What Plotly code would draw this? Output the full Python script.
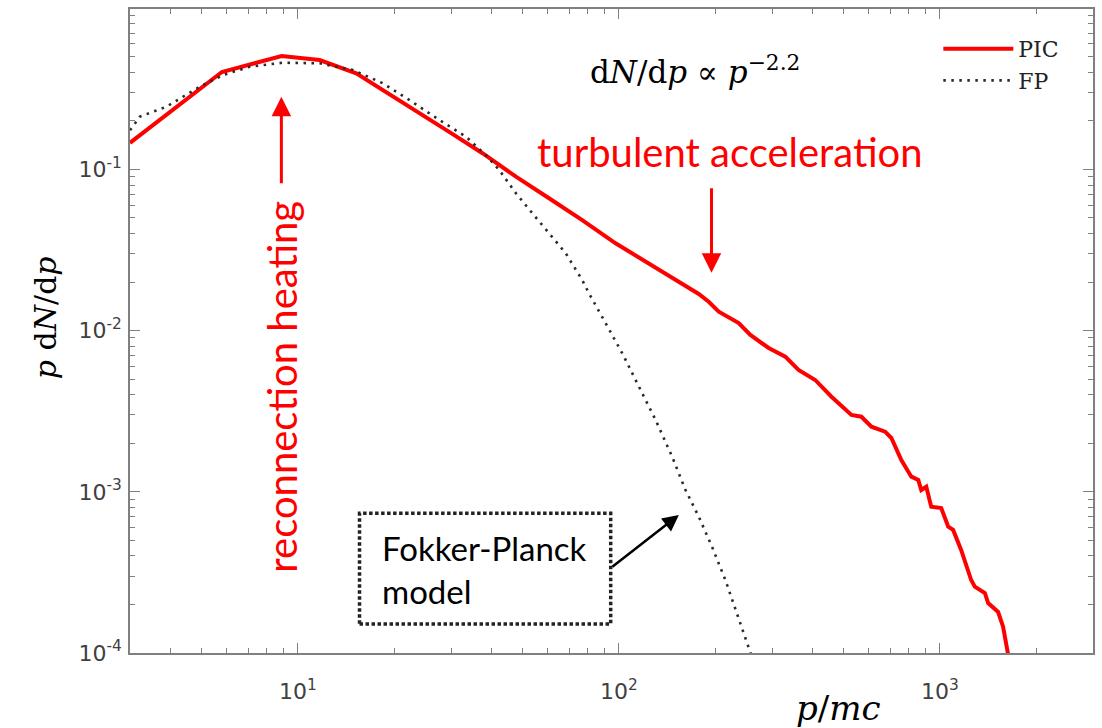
import plotly.graph_objects as go

# ---- data ----
pic_p = [3.0, 5.80, 8.90, 11.69, 15.2, 18.4, 23.4, 29.6, 37.6, 47.8, 60.6, 76.9, 97.7,
         124, 157.4, 177.4, 190.5, 204.8, 236.3, 256.9, 292.9, 330, 362.9, 409, 459.6,
         530.3, 569.6, 612, 675.1, 706.3, 758.6, 815, 856.6, 875.2, 907.2, 940.1, 1010,
         1062, 1100, 1165, 1252, 1285, 1381, 1414, 1519, 1574, 1608, 1643]
pic_y = [0.146, 0.402, 0.505, 0.477, 0.394, 0.311, 0.228, 0.171, 0.126, 0.0901, 0.0662,
         0.0485, 0.0348, 0.0262, 0.01965, 0.01687, 0.0151, 0.0131, 0.01114, 0.00939,
         0.0078, 0.00689, 0.0057, 0.00494, 0.00389, 0.002995, 0.002923, 0.002534,
         0.00236, 0.002157, 0.001575, 0.001241, 0.001184, 0.001026, 0.001075, 0.000808,
         0.000793, 0.000607, 0.00058, 0.000436, 0.0002836, 0.0002578, 0.0002357,
         0.0002042, 0.0001796, 0.0001456, 0.0001153, 0.0000906]

fp_p = [3.0, 3.22, 3.90, 4.95, 5.85, 7.08, 8.99, 11.69, 14.84, 18.4, 22.26, 27.6, 33.4,
        38.5, 42.4, 47.8, 53.8, 60.6, 68.3, 76.9, 80.7, 91.0, 102.5, 115.5, 130.2, 146.6,
        161.3, 177.4, 195.1, 214.7, 236.3, 253.8, 264.9]
fp_y = [0.175, 0.2123, 0.245, 0.326, 0.385, 0.4335, 0.459, 0.455, 0.4136, 0.342, 0.2694,
        0.2025, 0.1595, 0.1228, 0.0992, 0.0711, 0.0534, 0.0402, 0.0302, 0.0206, 0.01703,
        0.0111, 0.00723, 0.00449, 0.00279, 0.00165, 0.001026, 0.000701, 0.000456,
        0.000284, 0.0001602, 0.000107, 0.0000843]

x_tickvals = [10, 100, 1000]
x_ticktext = ["10<sup>1</sup>", "10<sup>2</sup>", "10<sup>3</sup>"]
y_tickvals = [1e-4, 1e-3, 1e-2, 1e-1]
y_ticktext = ["10<sup>-4</sup>", "10<sup>-3</sup>", "10<sup>-2</sup>", "10<sup>-1</sup>"]
x_minor = [3, 4, 5, 6, 7, 8, 9, 20, 30, 40, 50, 60, 70, 80, 90,
           200, 300, 400, 500, 600, 700, 800, 900, 2000, 3000]
y_minor = [m * 10.0 ** e for e in (-4, -3, -2, -1) for m in range(2, 10)]

# ---- layout geometry ----
W, H = 1102, 728
L, R, T, B = 130, 1095, 9, 653


def px(x):
    return (x - L) / (R - L)


def py(y):
    return (B - y) / (B - T)


fig = go.Figure()
fig.add_trace(go.Scatter(x=pic_p, y=pic_y, mode="lines", name="PIC",
                         line=dict(color="#ff0000", width=4)))
fig.add_trace(go.Scatter(x=fp_p, y=fp_y, mode="lines", name="FP",
                         line=dict(color="#2a2a2a", width=2.6, dash="2.5px,5.5px")))

axis_common = dict(
    type="log", showline=True, linecolor="#808080", linewidth=1.5, mirror="ticks",
    ticks="inside", ticklen=10, tickwidth=1.2, tickcolor="#808080",
    showgrid=False, zeroline=False,
    tickfont=dict(family="DejaVu Sans", size=22, color="#404040"),
)

fig.update_layout(
    width=W, height=H,
    margin=dict(l=L, r=W - R, t=T, b=H - B),
    paper_bgcolor="white", plot_bgcolor="white",
    xaxis=dict(range=[0.47712, 3.47712], tickvals=x_tickvals, ticktext=x_ticktext,
               ticklabelstandoff=18,
               minor=dict(ticks="inside", ticklen=5, tickcolor="#808080",
                          tickvals=x_minor, showgrid=False),
               **axis_common),
    yaxis=dict(range=[-4, -0.005], tickvals=y_tickvals, ticktext=y_ticktext,
               ticklabelstandoff=2,
               minor=dict(ticks="inside", ticklen=5, tickcolor="#808080",
                          tickvals=y_minor, showgrid=False),
               **axis_common),
    legend=dict(x=px(940), y=py(28), xanchor="left", yanchor="top",
                bgcolor="rgba(0,0,0,0)", itemwidth=70,
                font=dict(family="DejaVu Serif", size=22, color="#222222"),
                tracegroupgap=0),
    showlegend=True,
)

serif = "DejaVu Serif"
sans = "Lato"

annotations = [
    dict(x=px(45), y=py(318), text="<i>p</i> d<i>N</i>/d<i>p</i>", textangle=-90,
         font=dict(family=serif, size=30, color="black")),
    dict(x=px(840), y=py(708), text="<i>p</i>/<i>mc</i>",
         font=dict(family=serif, size=34, color="black")),
    dict(x=px(696), y=py(70), text="d<i>N</i>/d<i>p</i> ∝ <i>p</i><sup>−2.2</sup>",
         font=dict(family=serif, size=31, color="black")),
    dict(x=px(282), y=py(387), text="reconnection heating", textangle=-90,
         font=dict(family=sans, size=40, color="#ff0000")),
    dict(x=px(731), y=py(152), text="turbulent acceleration",
         font=dict(family=sans, size=40, color="#ff0000")),
    dict(x=px(381), y=py(569), xanchor="left", align="left",
         text="Fokker-Planck<br>model",
         font=dict(family=sans, size=33, color="black")),
    # arrows
    dict(x=px(281.7), y=py(96.7), ax=0, ay=88, text="", showarrow=True,
         arrowhead=2, arrowsize=1.3, arrowwidth=3, arrowcolor="#ff0000"),
    dict(x=px(712.7), y=py(272.7), ax=0, ay=-86, text="", showarrow=True,
         arrowhead=2, arrowsize=1.3, arrowwidth=3, arrowcolor="#ff0000"),
    dict(x=px(680), y=py(515), ax=-68, ay=53, text="", showarrow=True,
         arrowhead=2, arrowsize=1.3, arrowwidth=2.5, arrowcolor="black"),
]
for a in annotations:
    a.setdefault("xref", "paper")
    a.setdefault("yref", "paper")
    a.setdefault("showarrow", False)
    a.setdefault("xanchor", "center")
    a.setdefault("yanchor", "middle")
fig.update_layout(annotations=annotations)

fig.add_shape(type="rect", xref="paper", yref="paper",
              x0=px(360), x1=px(611.7), y0=py(624), y1=py(513.3),
              line=dict(color="#222222", width=3.5, dash="3.5px,2.5px"))

fig.write_html("out.html")
